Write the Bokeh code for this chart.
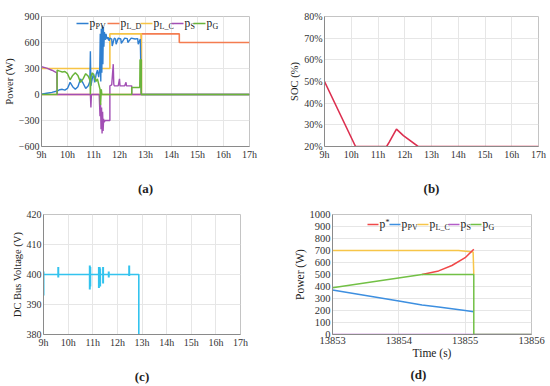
from bokeh.plotting import figure
from bokeh.layouts import column, row
from bokeh.models import Range1d, FixedTicker, Label, BoxAnnotation, Title
from bokeh.embed import file_html
from bokeh.resources import INLINE

FONT = "Liberation Serif"

# ---------------- data (a): powers over the day ----------------
hour_ticks = [9, 10, 11, 12, 13, 14, 15, 16, 17]
hour_labels = ["9h", "10h", "11h", "12h", "13h", "14h", "15h", "16h", "17h"]
power_ticks_a = [-600, -300, 0, 300, 600, 900]

t_ld = [9, 12.84, 12.84, 14.3, 14.3, 17]
p_ld = [0, 0, 700, 700, 600, 600]

t_lc = [9, 11.63, 11.63, 12.84, 12.84, 17]
p_lc = [300, 300, 700, 700, 0, 0]

t_pv = [9.0, 9.2, 9.4, 9.6, 9.7, 9.8, 9.9, 10.0, 10.1, 10.2, 10.3, 10.4, 10.5, 10.6, 10.7,
        10.8, 10.86, 10.88, 10.9, 10.95, 11.0, 11.05, 11.1, 11.15, 11.2, 11.24, 11.26, 11.28,
        11.3, 11.32, 11.34, 11.36, 11.38, 11.4, 11.42, 11.45, 11.48, 11.52, 11.56, 11.6, 11.63,
        11.7, 11.72, 11.8, 11.85, 11.87, 11.95, 12.05, 12.07, 12.2, 12.3, 12.32, 12.45, 12.6,
        12.7, 12.72, 12.8, 12.82, 12.84, 17]
p_pv = [5, 15, 25, 40, 55, 60, 50, 70, 140, 90, 60, 90, 180, 130, 70,
        100, 150, 500, 100, 180, 240, 140, 230, 280, 200, 300, 700, 150,
        760, 250, 800, 350, 780, 550, 720, 630, 700, 640, 660, 620, 650,
        640, 560, 650, 640, 580, 650, 640, 590, 650, 645, 600, 650, 640,
        645, 580, 640, 300, 0, 0]

t_s = [9.0, 9.2, 9.4, 9.59, 9.6, 10.88, 10.9, 10.92, 11.22, 11.25, 11.27, 11.29, 11.31, 11.33,
       11.35, 11.37, 11.39, 11.41, 11.45, 11.63, 11.63, 11.7, 11.76, 11.78, 11.8, 11.95, 12.0,
       12.02, 12.2, 12.25, 12.27, 12.47, 12.47, 17]
p_s = [320, 305, 280, 250, 0, 0, -150, 0, 0, -250, -100, -400, -150, -450,
       -200, -420, -280, -320, -300, -300, 100, 110, 350, 120, 100, 100, 180,
       100, 100, 140, 100, 100, 0, 0]

t_g = [9.0, 9.6, 9.6, 9.7, 9.8, 9.9, 10.0, 10.1, 10.2, 10.3, 10.4, 10.5, 10.6, 10.7, 10.8,
       10.87, 10.88, 10.9, 10.95, 11.0, 11.1, 11.15, 11.2, 11.25, 11.27, 11.3, 11.32, 12.47,
       12.47, 12.78, 12.79, 12.84, 12.84, 17]
p_g = [0, 0, 280, 270, 260, 265, 240, 170, 220, 250, 220, 140, 180, 240, 210,
       160, 0, 200, 250, 230, 150, 180, 120, 60, -120, 60, 0, 0,
       80, 80, 400, 400, 0, 0]

# ---------------- data (b): state of charge ----------------
t_soc = [9, 10.16, 11.32, 11.42, 11.69, 11.95, 12.5, 17]
soc = [50, 20, 20, 22, 28, 25, 20, 20]
soc_ticks = [20, 30, 40, 50, 60, 70, 80]

# ---------------- data (c): DC bus voltage ----------------
t_vdc = [9, 12.87, 12.87]
vdc = [400, 400, 370]
spike_t = [9.0, 9.6, 10.88, 10.9, 11.25, 11.28, 11.3, 11.42, 11.65, 12.48]
spike_lo = [393, 399, 395, 396, 395.5, 397, 396, 397, 399, 399.5]
spike_hi = [401, 402.5, 403, 402.5, 402.5, 402.5, 402, 402.5, 401, 403]
volt_ticks = [380, 390, 400, 410, 420]

# ---------------- data (d): zoom around 13855 s ----------------
time_ticks = [13853, 13854, 13855, 13856]
power_ticks_d = [0, 100, 200, 300, 400, 500, 600, 700, 800, 900, 1000]
t_star = [13854.35, 13854.6, 13854.8, 13855.0, 13855.13]
p_star = [500, 530, 575, 640, 710]
t_pv_d = [13853, 13853.5, 13854, 13854.35, 13854.6, 13854.8, 13855.0, 13855.13]
p_pv_d = [370, 325, 280, 245, 230, 215, 200, 190]
t_lc_d = [13853, 13854.9, 13855.12, 13855.13]
p_lc_d = [700, 700, 688, 500]
t_s_d = [13853, 13856]
p_s_d = [0, 0]
t_g_d = [13853, 13854.35, 13855.13, 13855.13, 13856]
p_g_d = [390, 500, 500, 0, 0]

# colours
C_PV, C_LD, C_LC, C_S, C_G = "#2f7fd0", "#f47c50", "#f7c445", "#a24fb4", "#6ab43a"
D_STAR, D_PV, D_LC, D_S, D_G = "#f04848", "#3d8fe0", "#f7c548", "#b35cc8", "#72c045"


def style(p, xt, yt, xlabels=None, ylabel=None, xlabel=None, fs="10px"):
    p.xaxis.ticker = FixedTicker(ticks=xt)
    p.yaxis.ticker = FixedTicker(ticks=yt)
    p.xgrid.ticker = FixedTicker(ticks=xt)
    p.ygrid.ticker = FixedTicker(ticks=yt)
    if xlabels:
        p.xaxis.major_label_overrides = dict(zip(xt, xlabels))
    for ax in (p.xaxis[0], p.yaxis[0]):
        ax.major_label_text_font = FONT
        ax.major_label_text_font_size = fs
        ax.major_label_text_color = "#333333"
        ax.major_tick_out = 0
        ax.major_tick_in = 0
        ax.minor_tick_out = 0
        ax.minor_tick_in = 0
        ax.axis_line_color = "#8a8a8a"
        ax.major_label_standoff = 2
        ax.axis_label_text_font = FONT
        ax.axis_label_text_font_size = "10.5px"
        ax.axis_label_text_font_style = "normal"
        ax.axis_label_text_color = "#222222"
        ax.axis_label_standoff = 1
    if ylabel:
        p.yaxis.axis_label = ylabel
    if xlabel:
        p.xaxis.axis_label = xlabel
    p.grid.grid_line_color = "#e6e6e6"
    p.outline_line_color = "#c4c4c4"
    p.background_fill_color = "white"
    p.border_fill_color = "white"


def caption_axis(p, text, standoff):
    # the panel caption sits below the hour tick labels
    ax = p.xaxis[0]
    ax.axis_label = text
    ax.axis_label_text_font_style = "bold"
    ax.axis_label_text_font_size = "13px"
    ax.axis_label_standoff = standoff


def legend(p, items, xs, y_down, frame_h, seg):
    y = frame_h - y_down
    for (color, main, sub, sup), x in zip(items, xs):
        p.add_layout(BoxAnnotation(left=x, right=x + seg, bottom=y - 0.8, top=y + 0.8,
                                   left_units="screen", right_units="screen",
                                   top_units="screen", bottom_units="screen",
                                   fill_color=color, fill_alpha=1, line_alpha=0))
        p.add_layout(Label(x=x + seg + 1, y=y + 1, x_units="screen", y_units="screen", text=main,
                           text_font=FONT, text_font_size="11.5px", text_baseline="middle",
                           text_color="#222222"))
        if sub:
            p.add_layout(Label(x=x + seg + 7, y=y - 3, x_units="screen", y_units="screen", text=sub,
                               text_font=FONT, text_font_size="8px", text_baseline="middle",
                               text_color="#222222"))
        if sup:
            p.add_layout(Label(x=x + seg + 7, y=y + 2, x_units="screen", y_units="screen", text=sup,
                               text_font=FONT, text_font_size="8px", text_baseline="middle",
                               text_color="#222222"))


# ---------------- (a) ----------------
pa = figure(width=275, height=198, output_backend="svg", toolbar_location=None,
            x_range=Range1d(9, 17), y_range=Range1d(-600, 900),
            min_border_left=36, min_border_right=26, min_border_top=16, min_border_bottom=49)
style(pa, hour_ticks, power_ticks_a, hour_labels, ylabel="Power (W)")
pa.line(t_ld, p_ld, color=C_LD, line_width=1.6)
pa.line(t_lc, p_lc, color=C_LC, line_width=1.6)
pa.line(t_pv, p_pv, color=C_PV, line_width=1.4)
pa.line(t_s, p_s, color=C_S, line_width=1.4)
pa.line(t_g, p_g, color=C_G, line_width=1.5)
legend(pa, [(C_PV, "p", "PV", None), (C_LD, "p", "L_D", None), (C_LC, "p", "L_C", None),
            (C_S, "p", "S", None), (C_G, "p", "G", None)],
       [35, 66, 99, 130, 152], 10, 133, 12)
caption_axis(pa, "(a)", 18)

# ---------------- (b) ----------------
pb = figure(width=275, height=198, output_backend="svg", toolbar_location=None,
            x_range=Range1d(9, 17), y_range=Range1d(20, 80),
            min_border_left=49, min_border_right=12, min_border_top=16, min_border_bottom=49)
style(pb, hour_ticks, soc_ticks, hour_labels, ylabel="SOC (%)")
pb.yaxis.major_label_overrides = {v: f"{v}%" for v in soc_ticks}
pb.line(t_soc, soc, color="#dc3050", line_width=1.6)
caption_axis(pb, "(b)", 18)

# ---------------- (c) ----------------
pc = figure(width=275, height=188, output_backend="svg", toolbar_location=None,
            x_range=Range1d(9, 17), y_range=Range1d(380, 420),
            min_border_left=43, min_border_right=35, min_border_top=16, min_border_bottom=49)
style(pc, hour_ticks, volt_ticks, hour_labels, ylabel="DC Bus Voltage (V)")
pc.line(t_vdc, vdc, color="#33c3ee", line_width=1.6)
pc.segment(x0=spike_t, y0=spike_lo, x1=spike_t, y1=spike_hi, color="#33c3ee", line_width=2)
caption_axis(pc, "(c)", 18)

# ---------------- (d) ----------------
pd_ = figure(width=275, height=188, output_backend="svg", toolbar_location=None,
             x_range=Range1d(13853, 13856), y_range=Range1d(0, 1000),
             min_border_left=57, min_border_right=19, min_border_top=15, min_border_bottom=52)
style(pd_, time_ticks, power_ticks_d, ylabel="Power (W)", xlabel="Time (s)", fs="10.5px")
pd_.xaxis.axis_label_standoff = 0
pd_.yaxis.axis_label_text_font_size = "11.5px"
pd_.xaxis.axis_label_text_font_size = "11.5px"
pd_.line(t_pv_d, p_pv_d, color=D_PV, line_width=1.5)
pd_.line(t_lc_d, p_lc_d, color=D_LC, line_width=1.5)
pd_.line(t_star, p_star, color=D_STAR, line_width=1.5)
pd_.line(t_s_d, p_s_d, color=D_S, line_width=1.5)
pd_.line(t_g_d, p_g_d, color=D_G, line_width=1.5)
legend(pd_, [(D_STAR, "p", None, "*"), (D_PV, "p", "PV", None), (D_LC, "p", "L_C", None),
             (D_S, "p", "S", None), (D_G, "p", "G", None)],
       [35, 57, 85, 116, 138], 11, 121, 11)
pd_.add_layout(Title(text="(d)", align="left", text_font=FONT, text_font_size="13px",
                     text_font_style="bold", text_color="#222222", standoff=6, offset=78), "below")

layout = column(row(pa, pb), row(pc, pd_))

open("out.html", "w").write(file_html(layout, INLINE))
